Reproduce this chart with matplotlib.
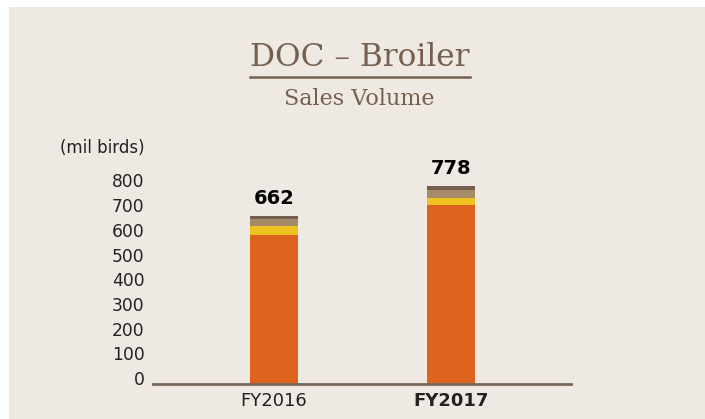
import matplotlib.pyplot as plt
import matplotlib.transforms as mtransforms
from matplotlib.patches import Rectangle

years = ['FY2016', 'FY2017']
totals = [662, 778]
# stacked segments, bottom to top
seg_orange = [585, 703]
seg_yellow = [36, 28]
seg_tan = [27, 31]
seg_dark = [14, 16]
yticks = [0, 100, 200, 300, 400, 500, 600, 700, 800]

bg = '#eee9e3'
brown = '#75604f'
colors = ['#dd631e', '#eec21f', '#a58b67', '#75604f']

W, H = 705, 419
fig = plt.figure(figsize=(W / 100, H / 100), dpi=100)
fig.patch.set_facecolor('white')
fig.patches.append(Rectangle((9 / W, 0), 1, 1 - 7 / H, transform=fig.transFigure,
                             facecolor=bg, edgecolor='none', zorder=-5))

# axes: x line from 153 to 571 px, zero at y=384 px, 0.2545 px per unit
ax_bottom = (H - 384) / H
ymax = 900
ax_h = ymax * 0.2545 / H
ax = fig.add_axes([153 / W, ax_bottom, (571 - 153) / W, ax_h])
ax.set_facecolor('none')

x = [0, 1]
bottom = [0, 0]
for seg, c in zip([seg_orange, seg_yellow, seg_tan, seg_dark], colors):
    ax.bar(x, seg, bottom=bottom, width=0.271, color=c, zorder=2)
    bottom = [b + s for b, s in zip(bottom, seg)]

for xi, t in zip(x, totals):
    ax.text(xi, t + 30, str(t), ha='center', va='bottom', fontsize=14,
            fontweight='bold', color='black')

ax.set_xlim(-0.684, 1.678)
ax.set_ylim(0, ymax)
ax.set_yticks(yticks)
ax.set_yticklabels([str(v) for v in yticks], fontsize=12.3, color='#222222')
ax.set_xticks(x)
ax.set_xticklabels(years, fontsize=13, color='#222222')
ax.get_xticklabels()[1].set_fontweight('bold')
ax.tick_params(axis='both', length=0)
ax.tick_params(axis='y', pad=6)
ax.tick_params(axis='x', pad=6)
for s in ['top', 'right', 'left']:
    ax.spines[s].set_visible(False)
ax.spines['bottom'].set_color('#76695b')
ax.spines['bottom'].set_linewidth(2)
ax.spines['bottom'].set_zorder(3)

# the tick labels in the original are a bit tighter than the scale
for lab, v in zip(ax.get_yticklabels(), yticks):
    off = mtransforms.ScaledTranslation(0, 0.06 * (1 - v / 800), fig.dpi_scale_trans)
    lab.set_transform(lab.get_transform() + off)

fig.text(145 / W, 1 - 148 / H, '(mil birds)', ha='right', va='center',
         fontsize=12, color='#222222')

fig.text(360 / W, 1 - 57 / H, 'DOC – Broiler', ha='center', va='center',
         fontsize=22.5, color=brown, family='DejaVu Serif')
fig.add_artist(plt.Line2D([250 / W, 470 / W], [1 - 77 / H, 1 - 77 / H],
                          color=brown, linewidth=1.8))
fig.text(359 / W, 1 - 99 / H, 'Sales Volume', ha='center', va='center',
         fontsize=16, color=brown, family='DejaVu Serif')

fig.savefig('out.png', dpi=100, facecolor=fig.get_facecolor())
